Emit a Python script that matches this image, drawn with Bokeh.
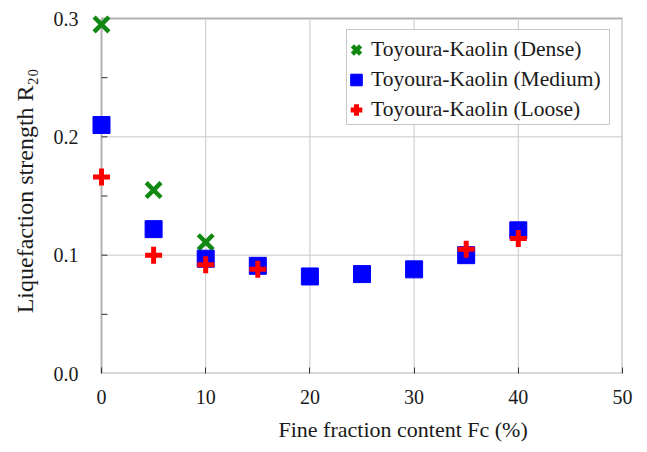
from bokeh.plotting import figure
from bokeh.models import Range1d, FixedTicker, Legend, LegendItem, BoxAnnotation, CustomJSTickFormatter, Title
from bokeh.embed import file_html
from bokeh.resources import INLINE

# Data
fc_dense = [0, 5, 10]
r_dense = [0.295, 0.155, 0.111]
fc_medium = [0, 5, 10, 15, 20, 25, 30, 35, 40]
r_medium = [0.210, 0.122, 0.097, 0.091, 0.082, 0.084, 0.088, 0.100, 0.121]
fc_loose = [0, 5, 10, 15, 35, 40]
r_loose = [0.166, 0.100, 0.092, 0.088, 0.105, 0.114]
x_ticks = [0, 10, 20, 30, 40, 50]
y_ticks = [0.0, 0.1, 0.2, 0.3]
y_minor = [0.05, 0.15, 0.25]
x_grid = [10, 20, 30, 40]
y_grid = [0.1, 0.2]
x_title = "Fine fraction content Fc (%)"
y_title = "Liquefaction strength R\u2082\u2080"
series_names = ["Toyoura-Kaolin (Dense)", "Toyoura-Kaolin (Medium)", "Toyoura-Kaolin (Loose)"]

X_MIN, X_MAX = 0, 50
Y_MIN, Y_MAX = 0.0, 0.3

FONT = "Liberation Serif"
TXT = "#1a1a1a"

# pixel layout: axis box 0..50 -> 101..622 px, 0..0.3 -> 373..18 px
W, H = 647, 452
box_left, box_right, box_top, box_bottom = 101, 622, 18, 373
frame_left, frame_top = 91, 8
xs = (box_right - box_left) / (X_MAX - X_MIN)
ys = (box_bottom - box_top) / (Y_MAX - Y_MIN)
x_start = X_MIN - (box_left - frame_left) / xs
y_end = Y_MAX + (box_top - frame_top) / ys

p = figure(width=W, height=H, output_backend="svg", toolbar_location=None,
           x_range=Range1d(x_start, X_MAX), y_range=Range1d(Y_MIN, y_end),
           min_border_left=frame_left, min_border_right=W - box_right,
           min_border_top=frame_top, min_border_bottom=H - box_bottom)

p.outline_line_color = None
p.background_fill_color = "white"
p.border_fill_color = "white"
p.xgrid.grid_line_color = None
p.ygrid.grid_line_color = None

for ax in (p.xaxis[0], p.yaxis[0]):
    ax.axis_line_color = None
    ax.major_label_text_font = FONT
    ax.major_label_text_font_size = "20px"
    ax.major_label_text_color = TXT
    ax.minor_tick_line_color = None

p.xaxis.ticker = FixedTicker(ticks=x_ticks)
p.xaxis.major_tick_in = 6
p.xaxis.major_tick_out = 0
p.xaxis.major_tick_line_color = "#333333"
p.yaxis.ticker = FixedTicker(ticks=y_ticks)
p.yaxis.major_tick_line_color = None
p.yaxis.major_tick_in = 0
p.yaxis.major_tick_out = 0
p.yaxis.formatter = CustomJSTickFormatter(code="return tick.toFixed(1);")
p.xaxis.major_label_standoff = 16
p.yaxis.major_label_standoff = 13

p.yaxis.axis_label = y_title
p.yaxis.axis_label_text_font = FONT
p.yaxis.axis_label_text_font_size = "24px"
p.yaxis.axis_label_text_font_style = "normal"
p.yaxis.axis_label_text_color = TXT
p.yaxis.axis_label_standoff = 13

# x-axis title, placed right of centre as in the original
p.add_layout(Title(text=x_title, align="left", offset=278 - frame_left, text_font=FONT,
                   text_font_size="22px", text_font_style="normal", text_color=TXT,
                   standoff=17), "below")

# grid lines inside the axis box
p.segment(x0=x_grid, y0=[Y_MIN] * len(x_grid), x1=x_grid, y1=[Y_MAX] * len(x_grid),
          line_color="#c8c8c8", line_width=1)
p.segment(x0=[X_MIN] * len(y_grid), y0=y_grid, x1=[X_MAX] * len(y_grid), y1=y_grid,
          line_color="#c8c8c8", line_width=1)
# inward y ticks on the axis at x = 0
tick_len = 6 / xs
yt = y_minor + y_grid
p.segment(x0=[X_MIN] * len(yt), y0=yt, x1=[X_MIN + tick_len] * len(yt), y1=yt,
          line_color="#333333", line_width=1)

# axis box
p.add_layout(BoxAnnotation(left=X_MIN, right=X_MAX, bottom=Y_MIN, top=Y_MAX,
                           fill_color=None, fill_alpha=0, line_color="black",
                           line_width=2, level="underlay"))

g1 = p.scatter(fc_dense, r_dense, marker="x", size=21, line_color="#118811", line_width=4.5)
g2 = p.scatter(fc_medium, r_medium, marker="square", size=17, fill_color="#0000ff", line_color="#0000ff")
g3 = p.scatter(fc_loose, r_loose, marker="cross", size=17, line_color="#ff0000", line_width=5)

# legend frame (screen units relative to the plot frame)
leg_l, leg_r, leg_t, leg_b = 346, 609, 29, 124
p.add_layout(BoxAnnotation(left=leg_l - frame_left, right=leg_r - frame_left,
                           top=box_bottom - leg_t, bottom=box_bottom - leg_b,
                           left_units="screen", right_units="screen",
                           top_units="screen", bottom_units="screen",
                           fill_color="white", fill_alpha=1.0,
                           line_color="#444444", line_width=1))

legend = Legend(items=[
    LegendItem(label=series_names[0], renderers=[g1]),
    LegendItem(label=series_names[1], renderers=[g2]),
    LegendItem(label=series_names[2], renderers=[g3]),
], location=(341 - frame_left, box_bottom - leg_b))
legend.label_text_font = FONT
legend.label_text_font_size = "21.5px"
legend.label_text_color = TXT
legend.label_height = 29
legend.glyph_height = 29
legend.glyph_width = 30
legend.spacing = 1
legend.padding = 3
legend.margin = 0
legend.label_standoff = 0
legend.border_line_color = None
legend.background_fill_alpha = 0.0
p.add_layout(legend)

open("out.html", "w").write(file_html(p, INLINE))
